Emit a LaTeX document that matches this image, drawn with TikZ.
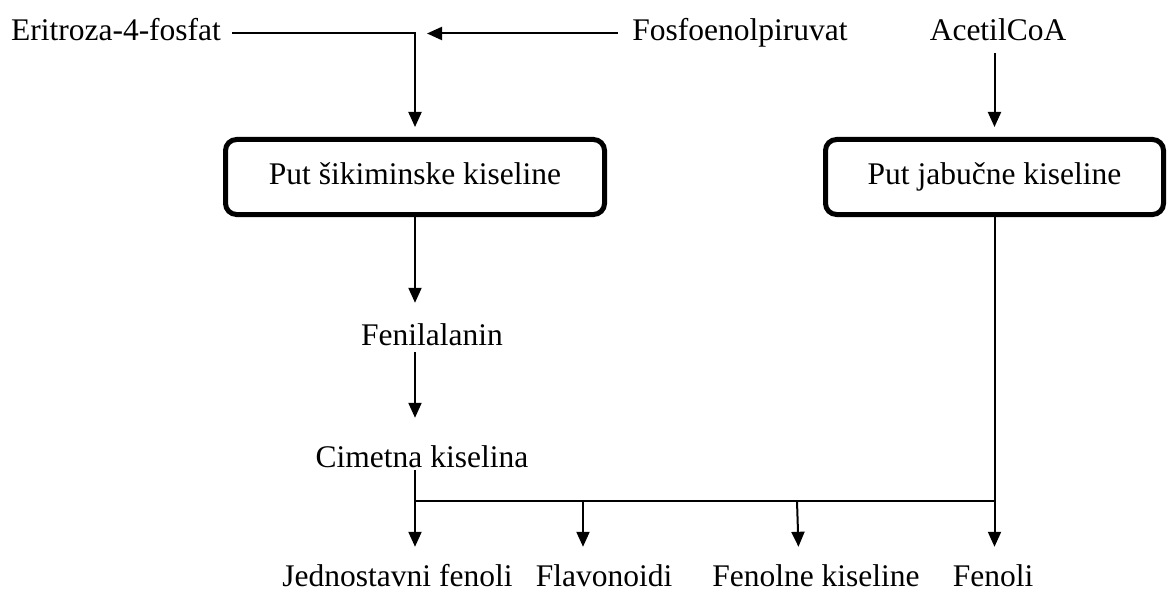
\documentclass[tikz,border=0pt]{standalone}
\usepackage{fontspec}
\setmainfont{Liberation Serif}
\usetikzlibrary{arrows.meta}
\begin{document}
\begin{tikzpicture}[x=1pt,y=-1pt,
  txt/.style={font=\fontsize{31.5}{36}\selectfont, text height=22pt, text depth=7pt},
  lbl/.style={txt, inner xsep=0pt, inner ysep=20pt, anchor=base},
  endlbl/.style={font=\fontsize{31.5}{36}\selectfont, text height=22pt, text depth=3pt, inner sep=0pt, anchor=base},
  pathbox/.style={txt, draw, line width=5pt, rounded corners=11pt, inner sep=0pt, minimum height=75pt},
  ln/.style={line width=2pt},
  arr/.style={ln, -{Triangle[width=13pt,length=15pt]}}]
\useasboundingbox (0,0) rectangle (1167,591);

% top labels
\node[lbl] (ery) at (116,41) {Eritroza-4-fosfat};
\node[lbl] (fos) at (740,41) {Fosfoenolpiruvat};
\node[lbl] (ace) at (998,41) {AcetilCoA};

% boxes
\node[pathbox, minimum width=379pt] (b1) at (415,177) {Put šikiminske kiseline};
\node[pathbox, minimum width=338pt] (b2) at (994.5,177) {Put jabučne kiseline};

% middle labels
\node[lbl] (fen) at (432,345) {Fenilalanin};
\node[lbl] (cim) at (422,467) {Cimetna kiselina};

% bottom labels
\node[endlbl] (jf) at (397.5,586) {Jednostavni fenoli};
\node[endlbl] (fla) at (604,586) {Flavonoidi};
\node[endlbl] (fk) at (816,586) {Fenolne kiseline};
\node[endlbl] (fe) at (993,586) {Fenoli};

% top connectors
\draw[arr, shorten <=11pt, shorten >=10pt] (ery.east) -| (b1.north);
\draw[arr, shorten <=14.5pt, shorten >=12pt] (fos.west) -- (b1.north |- fos.west);
\draw[arr, shorten <=-15pt, shorten >=10pt] (b2.north |- ace.south) -- (b2.north);

% left column
\draw[arr] (b1.south) -- (b1.south |- fen.north);
\draw[arr, shorten <=-20pt, shorten >=7pt] (b1.south |- fen.south) -- (b1.south |- cim.north);
\draw[arr, shorten <=-24pt, shorten >=17pt] (b1.south |- cim.south) -- (b1.south |- jf.north);

% distribution line
\coordinate (hl) at (415,501);
\coordinate (hr) at (hl -| b2.south);
\coordinate (fl) at (583,501);
\coordinate (fkt) at (797,501);
\draw[ln] (hl) -- (hr);
\draw[arr, shorten >=17pt] (fl) -- (fl |- fla.north);
\draw[arr, shorten >=17pt] (fkt) -- ([xshift=2pt]fkt |- fk.north);
\draw[arr, shorten >=17pt] (b2.south) -- (b2.south |- fe.north);
\end{tikzpicture}
\end{document}
